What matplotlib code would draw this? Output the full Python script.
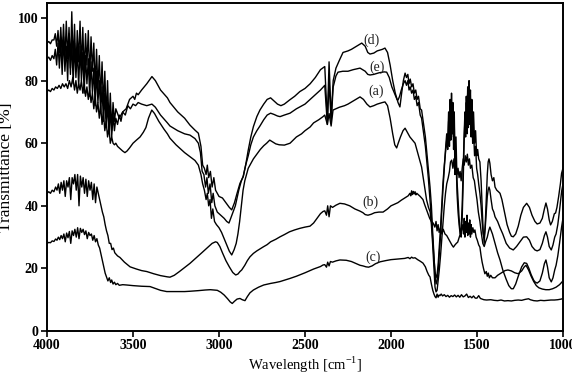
import matplotlib
matplotlib.use("Agg")
import matplotlib.pyplot as plt
import numpy as np

plt.rcParams['font.family'] = ['Liberation Serif', 'DejaVu Serif']
plt.rcParams['mathtext.fontset'] = 'custom'
plt.rcParams['mathtext.rm'] = 'Liberation Serif'

# ---- data: (wavenumber cm-1, transmittance %) ----
curve_d = [
    (4000, 92), (3990, 92.5), (3980, 91.8), (3970, 93),
    (3960, 93), (3952, 95), (3944, 91), (3936, 96), (3928, 89), (3920, 97), (3912, 88), (3904, 98),
    (3896, 86), (3888, 99), (3880, 87), (3872, 97), (3864, 84), (3856, 102), (3848, 85), (3840, 98),
    (3832, 83), (3824, 96), (3816, 86), (3808, 99), (3800, 84), (3792, 97), (3784, 82), (3776, 95),
    (3768, 85), (3760, 96), (3752, 81), (3744, 94), (3736, 83), (3728, 92), (3720, 78), (3712, 90),
    (3704, 77), (3696, 88), (3688, 74), (3680, 86), (3672, 72), (3664, 83), (3656, 68), (3648, 80),
    (3640, 66), (3632, 76), (3624, 64), (3616, 73), (3608, 67), (3600, 71),
    (3580, 68), (3560, 70), (3540, 71), (3520, 74), (3500, 75), (3490, 74), (3480, 76), (3470, 75.5),
    (3450, 77), (3420, 79), (3390, 81.3), (3370, 80), (3340, 77), (3300, 74.5), (3285, 73), (3240, 70),
    (3200, 68), (3169, 65.8), (3140, 64.2), (3120, 63.2), (3105, 59), (3095, 53), (3085, 52), (3075, 50),
    (3068, 53), (3060, 49), (3050, 51), (3040, 46), (3030, 49), (3020, 45), (3000, 43), (2980, 42.5),
    (2960, 41), (2940, 39.5), (2926, 38.7), (2910, 41), (2895, 44), (2878, 47.2), (2859, 49.3),
    (2845, 53), (2830, 57.8), (2815, 62), (2800, 65.3), (2780, 68.5), (2762, 70.6), (2740, 72.5),
    (2720, 74), (2700, 74.5), (2680, 73.5), (2660, 72.5), (2640, 72), (2620, 72.5), (2590, 73.8),
    (2560, 75), (2530, 76.5), (2500, 77.5), (2470, 79), (2440, 81), (2410, 83.5), (2385, 84.5),
    (2370, 67), (2360, 86), (2348, 68), (2336, 80), (2320, 84), (2300, 86.5), (2279, 89), (2250, 89.5),
    (2230, 90), (2200, 91), (2170, 92), (2150, 91), (2135, 89), (2122, 88.5), (2100, 88.8), (2080, 89.5),
    (2050, 90), (2035, 90.4), (2020, 89), (2005, 85), (1990, 80), (1975, 76), (1959, 73), (1948, 71.6),
    (1938, 76), (1928, 80), (1918, 82.4), (1910, 81), (1902, 82), (1895, 79), (1888, 80.5), (1880, 78),
    (1872, 79), (1864, 76), (1856, 77), (1848, 74), (1840, 75), (1830, 71), (1822, 70.6), (1810, 66),
    (1800, 62), (1793, 57.8), (1783, 52), (1773, 46), (1765, 40), (1758, 32), (1750, 24), (1744, 18),
    (1738, 15), (1732, 16), (1726, 19), (1720, 24), (1712, 30), (1705, 38), (1698, 45), (1690, 52),
    (1683, 58), (1676, 63), (1670, 60), (1665, 70), (1660, 62), (1656, 74), (1652, 64), (1648, 76),
    (1644, 66), (1640, 73), (1636, 62), (1632, 70), (1628, 55), (1622, 62), (1616, 48), (1610, 42),
    (1604, 36), (1598, 32), (1592, 30), (1586, 36), (1580, 48), (1575, 60), (1570, 68), (1566, 62),
    (1562, 75), (1558, 66), (1554, 78), (1550, 68), (1546, 80), (1542, 70), (1538, 77), (1534, 66),
    (1530, 74), (1525, 64), (1520, 70), (1514, 60), (1508, 64), (1502, 56), (1496, 58), (1490, 55),
    (1483, 54), (1476, 48), (1470, 40), (1464, 32), (1458, 28), (1452, 34), (1446, 42), (1440, 50),
    (1435, 54), (1430, 55), (1425, 53.6), (1418, 50), (1410, 48), (1402, 49), (1395, 46), (1385, 45),
    (1375, 44.5), (1366, 44), (1355, 42), (1340, 38), (1325, 34), (1310, 31.5), (1300, 30.3),
    (1289, 30.1), (1275, 31), (1260, 33.5), (1245, 37), (1230, 39.5), (1211, 40.8), (1195, 39.5),
    (1180, 37), (1163, 35), (1150, 34.2), (1134, 34.5), (1120, 36), (1108, 39), (1099, 40.9),
    (1090, 39), (1080, 35.5), (1072, 33.9), (1062, 35), (1050, 37.5), (1043, 37.7), (1035, 39.5),
    (1025, 43), (1015, 47), (1008, 50.4), (1000, 52),
]

curve_e = [
    (4000, 87), (3990, 87.5), (3980, 86.5), (3970, 88),
    (3960, 87), (3952, 90), (3944, 85), (3936, 92), (3928, 84), (3920, 93), (3912, 82), (3904, 94),
    (3896, 83), (3888, 91), (3880, 80), (3872, 95), (3864, 82), (3856, 93), (3848, 79), (3840, 92),
    (3832, 81), (3824, 90), (3816, 78), (3808, 91), (3800, 80), (3792, 89), (3784, 76), (3776, 88),
    (3768, 79), (3760, 87), (3752, 75), (3744, 86), (3736, 76), (3728, 84), (3720, 72), (3712, 83),
    (3704, 73), (3696, 80), (3688, 70), (3680, 78), (3672, 67), (3664, 76), (3656, 65), (3648, 73),
    (3640, 63), (3632, 71), (3624, 62), (3616, 69), (3608, 64), (3600, 68), (3590, 66), (3580, 69),
    (3570, 67), (3560, 70), (3545, 69), (3530, 72), (3515, 71), (3500, 72.5), (3485, 72), (3470, 73),
    (3450, 72.5), (3420, 72), (3390, 72.5), (3370, 71.5), (3340, 69), (3300, 66.5), (3285, 65.5),
    (3240, 64), (3200, 63), (3169, 62.6), (3140, 61.5), (3120, 60), (3108, 57), (3098, 51), (3088, 50),
    (3078, 46), (3070, 49), (3062, 44), (3052, 47), (3042, 41), (3034, 44), (3024, 40), (3010, 38),
    (2990, 37), (2970, 36), (2955, 35), (2942, 34.5), (2925, 37), (2905, 40), (2885, 45), (2870, 48),
    (2859, 49.5), (2845, 53), (2830, 56), (2815, 59.5), (2800, 62), (2780, 64), (2762, 65.5),
    (2740, 67.5), (2720, 69), (2700, 69.6), (2680, 69.2), (2660, 68.7), (2645, 68.5), (2620, 69),
    (2587, 69.6), (2550, 71), (2500, 72.5), (2470, 74), (2440, 75.5), (2410, 77), (2385, 78.5),
    (2370, 66), (2360, 80), (2348, 67), (2336, 78), (2320, 81.5), (2308, 82.7), (2280, 83), (2250, 83),
    (2220, 83.5), (2180, 84), (2150, 83), (2135, 82), (2122, 81.8), (2100, 82), (2070, 82.5),
    (2040, 82.8), (2025, 82.7), (2010, 81), (1995, 78), (1980, 76), (1965, 74), (1959, 73.8),
    (1950, 75), (1940, 77), (1928, 79), (1918, 80), (1910, 78.5), (1902, 80), (1895, 77), (1888, 78),
    (1880, 76), (1872, 77), (1864, 74), (1856, 75), (1848, 72), (1840, 73), (1830, 69), (1822, 68),
    (1810, 63), (1800, 59), (1793, 55), (1783, 49), (1773, 42), (1765, 36), (1758, 30), (1750, 23),
    (1744, 19), (1738, 17), (1732, 18), (1726, 21), (1720, 26), (1712, 33), (1705, 40), (1698, 47),
    (1690, 53), (1683, 57), (1676, 61), (1670, 58), (1665, 67), (1660, 59), (1656, 71), (1652, 61),
    (1648, 73), (1644, 63), (1640, 70), (1636, 58), (1632, 66), (1628, 50), (1622, 56), (1616, 44),
    (1610, 38), (1604, 34), (1598, 31), (1592, 33), (1586, 40), (1580, 52), (1575, 62), (1570, 70),
    (1566, 64), (1562, 73), (1558, 63), (1554, 76), (1550, 65), (1546, 74), (1542, 66), (1538, 72),
    (1534, 62), (1530, 69), (1525, 60), (1520, 64), (1514, 56), (1508, 59), (1502, 52), (1496, 50),
    (1490, 47), (1483, 44), (1476, 40), (1470, 35), (1464, 31), (1458, 30), (1452, 33), (1446, 38),
    (1440, 43), (1435, 45), (1430, 46), (1425, 45), (1418, 42), (1410, 39), (1402, 38), (1395, 36.5),
    (1380, 35), (1366, 33), (1350, 31), (1330, 28), (1310, 26.5), (1289, 25.9), (1270, 27),
    (1250, 28.5), (1230, 30), (1211, 30.1), (1195, 29), (1180, 27), (1163, 25.9), (1150, 25.6),
    (1134, 26), (1120, 28), (1108, 30.5), (1099, 31.7), (1090, 30), (1080, 27), (1068, 25.9),
    (1058, 27.5), (1048, 30), (1040, 31), (1030, 34), (1020, 38.5), (1008, 44.5), (1000, 47),
]

curve_a = [
    (4000, 76.5), (3990, 77), (3980, 76.5), (3970, 77.5), (3960, 77), (3950, 78), (3940, 77.5),
    (3930, 78.5), (3920, 77.5), (3910, 79), (3900, 78), (3890, 79), (3880, 77.5), (3870, 80),
    (3860, 78), (3850, 81), (3840, 77), (3832, 80), (3824, 76), (3816, 79), (3808, 77), (3800, 80),
    (3792, 76), (3784, 79), (3776, 75), (3768, 78), (3760, 74), (3752, 77), (3744, 73), (3736, 76),
    (3728, 71), (3720, 75), (3712, 70), (3704, 73), (3696, 68), (3688, 72), (3680, 66), (3672, 70),
    (3664, 64), (3656, 67), (3648, 62), (3640, 65), (3632, 60), (3624, 62), (3616, 60), (3608, 59.5),
    (3600, 60), (3590, 59), (3580, 58.5), (3570, 58), (3560, 57.5), (3547, 57), (3535, 57.5),
    (3520, 58.5), (3500, 60), (3480, 61), (3459, 62), (3440, 63.5), (3425, 65), (3410, 68),
    (3391, 70.6), (3375, 69.5), (3350, 67), (3320, 64.5), (3300, 63), (3285, 61.6), (3250, 59.5),
    (3200, 57), (3169, 55.7), (3140, 54.5), (3120, 53), (3105, 50), (3095, 47), (3085, 45), (3075, 42),
    (3068, 44), (3060, 40), (3052, 42), (3044, 36), (3036, 39), (3026, 35), (3015, 34), (3000, 33),
    (2985, 31.5), (2970, 29.5), (2955, 27.5), (2940, 25.5), (2926, 24.3), (2912, 26), (2900, 28),
    (2890, 31), (2880, 35), (2870, 40), (2860, 45), (2850, 48), (2840, 50), (2830, 52), (2815, 53.5),
    (2800, 55), (2780, 56.5), (2760, 58), (2740, 59.2), (2723, 60), (2705, 61), (2690, 60.5),
    (2670, 59.8), (2650, 59.5), (2620, 59.4), (2587, 60), (2550, 62), (2520, 63), (2500, 64),
    (2470, 65.2), (2450, 66.5), (2420, 67.5), (2395, 68.5), (2385, 69), (2370, 66), (2360, 69.5),
    (2348, 65.5), (2337, 70.6), (2320, 71), (2300, 71.5), (2270, 72), (2250, 72.5), (2220, 73.5),
    (2180, 74.8), (2160, 74), (2140, 72.5), (2122, 71.6), (2100, 72), (2080, 72.5), (2050, 73),
    (2035, 73.2), (2020, 72), (2005, 68), (1990, 63), (1978, 59.5), (1967, 58.5), (1958, 60),
    (1945, 62), (1930, 64), (1918, 64.8), (1905, 63.5), (1890, 62), (1875, 61), (1860, 60), (1845, 57),
    (1835, 55), (1822, 52.4), (1810, 48), (1800, 44.5), (1793, 41.9), (1782, 39.5), (1772, 38),
    (1765, 34), (1758, 28), (1750, 20), (1744, 14), (1738, 12.5), (1732, 13), (1726, 16), (1720, 19),
    (1712, 24), (1705, 29), (1698, 34), (1690, 40), (1683, 44), (1676, 47), (1667, 49), (1660, 51),
    (1654, 54), (1647, 54.6), (1640, 52), (1634, 55), (1628, 51), (1622, 54), (1616, 50), (1610, 52),
    (1604, 49), (1598, 51), (1592, 48), (1586, 52), (1580, 55), (1574, 53), (1568, 56), (1562, 54),
    (1556, 56.5), (1550, 53), (1544, 55), (1538, 52), (1530, 53), (1522, 49), (1515, 48), (1508, 45),
    (1500, 42), (1492, 38), (1483, 35), (1474, 31), (1466, 28), (1458, 27), (1450, 28.5), (1440, 30),
    (1432, 32), (1425, 33.2), (1410, 31), (1395, 28), (1380, 25), (1366, 22.7), (1350, 19.5),
    (1330, 16.5), (1315, 14.5), (1300, 13.5), (1289, 13.5), (1275, 15), (1260, 17.5), (1240, 20.5),
    (1225, 21.8), (1211, 21.6), (1198, 20), (1185, 18), (1170, 16.2), (1163, 15.7), (1150, 15.3),
    (1134, 16), (1120, 18.5), (1108, 21.5), (1099, 22.7), (1090, 20.5), (1080, 17), (1068, 15.7),
    (1058, 17), (1048, 19.5), (1040, 21), (1030, 24), (1020, 28), (1008, 33.2), (1000, 36),
]

curve_b = [
    (4000, 44), (3990, 44.5), (3980, 44), (3970, 45), (3960, 44.5), (3950, 46), (3942, 45),
    (3934, 47), (3926, 44), (3918, 47.5), (3910, 45), (3902, 48), (3894, 43), (3886, 48), (3878, 46),
    (3870, 49), (3862, 42), (3854, 49), (3846, 47), (3838, 50), (3830, 45), (3822, 50), (3814, 40),
    (3806, 49.5), (3798, 46), (3790, 49), (3782, 44), (3774, 48.5), (3766, 43), (3758, 48), (3750, 45),
    (3742, 47.5), (3734, 42), (3726, 47), (3718, 41), (3710, 46), (3702, 44), (3694, 42), (3686, 40),
    (3678, 38), (3670, 36.5), (3662, 34), (3654, 32), (3646, 30.5), (3638, 28), (3630, 28),
    (3622, 26), (3614, 26.5), (3606, 25), (3598, 24.5), (3590, 24), (3576, 23.5), (3550, 22),
    (3517, 20.5), (3480, 19.8), (3450, 19.3), (3420, 19), (3380, 18.3), (3340, 17.7), (3300, 17.3),
    (3285, 17.2), (3260, 17.8), (3230, 19), (3200, 20.3), (3169, 21.6), (3130, 23.5), (3100, 25),
    (3070, 26.5), (3040, 28), (3020, 28.5), (3010, 28.3), (2995, 27), (2980, 25), (2960, 22.5),
    (2940, 20.5), (2920, 18.7), (2903, 17.9), (2890, 18.2), (2878, 19), (2868, 19.5), (2850, 21),
    (2835, 22.5), (2820, 23.7), (2800, 24.8), (2780, 25.6), (2760, 26.3), (2742, 26.9), (2720, 27.6),
    (2700, 28.5), (2670, 29.3), (2645, 30.1), (2620, 30.8), (2590, 31.7), (2560, 32.3), (2530, 32.8),
    (2500, 33.2), (2471, 33.5), (2450, 34.5), (2430, 36), (2410, 37.5), (2395, 38.2), (2385, 38.4),
    (2375, 37), (2368, 40), (2360, 36.5), (2352, 40), (2340, 39.5), (2320, 40.2), (2297, 40.8),
    (2270, 40.6), (2240, 40), (2210, 39), (2180, 38.3), (2163, 37.8), (2150, 37.2), (2134, 37),
    (2115, 37.3), (2095, 37.8), (2070, 38), (2046, 38), (2020, 39), (2000, 40), (1980, 40.5),
    (1960, 41), (1940, 41.8), (1920, 42.5), (1900, 43.2), (1890, 44), (1885, 43.2), (1880, 44.8),
    (1875, 43.6), (1870, 44.6), (1865, 43.8), (1860, 44.5), (1855, 43.5), (1850, 44), (1840, 43.5),
    (1830, 43), (1822, 42.5), (1814, 42), (1805, 40.5), (1795, 39), (1785, 37.5), (1775, 36),
    (1765, 35), (1755, 34.5), (1745, 33.2), (1738, 35), (1732, 32), (1726, 34), (1720, 31.5),
    (1712, 33), (1704, 31), (1696, 32.5), (1686, 31), (1676, 30.5), (1666, 29.5), (1656, 28.5),
    (1646, 27.5), (1637, 26.8), (1628, 27.5), (1620, 28), (1612, 28.4), (1600, 30.5), (1590, 32),
    (1582, 34), (1578, 31), (1574, 36), (1570, 30), (1566, 35), (1562, 31.5), (1558, 37), (1554, 30.5),
    (1550, 34.5), (1546, 31), (1542, 35.5), (1538, 30), (1534, 34), (1530, 31), (1524, 33),
    (1518, 31.5), (1512, 32.3), (1505, 30), (1498, 29), (1490, 27.5), (1483, 26.8), (1476, 24),
    (1470, 22), (1462, 20), (1454, 18.3), (1446, 19), (1440, 17.5), (1434, 18.5), (1428, 17),
    (1420, 17.8), (1410, 17), (1395, 17), (1380, 17.8), (1360, 18.5), (1337, 19.3), (1320, 19.5),
    (1300, 19.2), (1280, 18.6), (1260, 18.3), (1240, 19.2), (1225, 20.5), (1215, 21), (1200, 19.5),
    (1185, 17.5), (1170, 15.8), (1155, 14.5), (1140, 13.8), (1120, 13.4), (1100, 13.2), (1080, 13.2),
    (1060, 13.5), (1040, 14), (1020, 14.8), (1000, 16),
]

curve_c = [
    (4000, 28), (3990, 28.3), (3980, 28.2), (3970, 28.8), (3960, 28.6), (3950, 29.4), (3942, 29),
    (3934, 30), (3926, 29.2), (3918, 30.5), (3910, 29.5), (3902, 31), (3894, 28.5), (3886, 31.3),
    (3878, 29.8), (3870, 31.8), (3862, 28), (3854, 32), (3846, 30.5), (3838, 32.5), (3830, 30),
    (3822, 33), (3814, 29.5), (3806, 32.8), (3798, 31.5), (3790, 32.5), (3782, 30.8), (3774, 32),
    (3766, 29.5), (3758, 31.5), (3750, 30.5), (3742, 31), (3734, 29), (3726, 30.5), (3718, 28.5),
    (3710, 29.5), (3702, 27.5), (3694, 26.5), (3686, 24.5), (3678, 22.5), (3670, 20.5), (3662, 18.5),
    (3654, 17.3), (3646, 16), (3638, 17), (3630, 15.5), (3624, 16.3), (3616, 15), (3608, 15.6),
    (3600, 14.8), (3590, 15.2), (3580, 14.6), (3560, 14.8), (3537, 14.7), (3500, 14.5), (3450, 14.3),
    (3401, 14.2), (3370, 13.6), (3340, 13), (3304, 12.6), (3250, 12.6), (3200, 12.6), (3169, 12.7),
    (3120, 12.9), (3080, 13.1), (3050, 13.2), (3033, 13.1), (3010, 13), (2990, 12.4), (2970, 11.5),
    (2950, 10.3), (2935, 9.3), (2923, 8.8), (2910, 9.5), (2895, 10.2), (2878, 10.4), (2865, 10),
    (2849, 9.7), (2835, 11), (2820, 12.2), (2800, 13.1), (2770, 14), (2740, 14.7), (2700, 15.2),
    (2670, 15.5), (2645, 15.8), (2610, 16.4), (2587, 16.8), (2550, 17.5), (2500, 18.6), (2450, 19.8),
    (2410, 20.6), (2395, 21.1), (2385, 21.2), (2375, 20.4), (2368, 22), (2360, 20.8), (2352, 22.2),
    (2340, 22), (2320, 22.4), (2297, 22.7), (2260, 22.6), (2230, 22.2), (2200, 21.5), (2180, 21),
    (2163, 20.8), (2145, 20.5), (2130, 20.4), (2110, 20.8), (2090, 21.5), (2064, 22.1), (2030, 22.5),
    (2000, 22.8), (1960, 23), (1920, 23.2), (1900, 23.5), (1890, 23.1), (1880, 23.6), (1872, 23.3),
    (1860, 23.4), (1845, 22.8), (1830, 22.3), (1814, 21.7), (1800, 20.5), (1790, 19), (1780, 17.8),
    (1773, 17.3), (1765, 15), (1757, 13), (1750, 11.8), (1744, 11), (1738, 10.6), (1732, 11.8),
    (1726, 10.8), (1720, 11.5), (1715, 11.3), (1708, 11.8), (1700, 11.2), (1690, 11.6), (1680, 11),
    (1670, 11.4), (1660, 10.8), (1650, 11.3), (1640, 11), (1630, 11.5), (1620, 10.9), (1610, 11.4),
    (1600, 10.8), (1590, 11.6), (1580, 10.9), (1570, 11.2), (1560, 11.8), (1550, 10.7), (1540, 11.1),
    (1530, 10.6), (1520, 11.2), (1510, 10.5), (1500, 10.5), (1490, 11.3), (1480, 10.4), (1470, 10.2),
    (1460, 10), (1444, 9.9), (1420, 10), (1400, 9.8), (1380, 9.7), (1360, 9.9), (1340, 9.6),
    (1320, 9.7), (1300, 9.6), (1280, 9.8), (1260, 9.9), (1240, 9.8), (1220, 10.1), (1200, 10.3),
    (1190, 10), (1170, 9.7), (1150, 9.6), (1130, 9.8), (1110, 9.7), (1090, 9.8), (1070, 9.9),
    (1050, 9.9), (1030, 10), (1010, 10.2), (1000, 10.4),
]

series_names = ["(d)", "(e)", "(a)", "(b)", "(c)"]
label_positions = [(2116, 93.0), (2083, 84.4), (2087, 76.5), (2122, 41.0), (2103, 23.5)]

x_ticks = [4000, 3500, 3000, 2500, 2000, 1500, 1000]
y_ticks = [0, 20, 40, 60, 80, 100]

fig = plt.figure(figsize=(5.72, 3.82), dpi=100)
ax = fig.add_axes([0.0822, 0.1335, 0.902, 0.8586])

for curve in [curve_d, curve_e, curve_a, curve_b, curve_c]:
    pts = sorted(curve, key=lambda p: -p[0])
    wn = np.array([p[0] for p in pts], dtype=float)
    tr = np.array([p[1] for p in pts], dtype=float)
    ax.plot(wn, tr, color='black', lw=1.0)

for name, (lx, ly) in zip(series_names, label_positions):
    ax.text(lx, ly, name, fontsize=10, ha='center', va='center', color='#222222')

ax.set_xlim(4000, 1000)
ax.set_ylim(0, 104.8)
ax.set_xticks(x_ticks)
ax.set_yticks(y_ticks)
ax.set_xticklabels([str(v) for v in x_ticks], fontweight='bold', fontsize=10)
ax.set_yticklabels([str(v) for v in y_ticks], fontweight='bold', fontsize=10)
ax.tick_params(direction='out', length=4, width=1.2, pad=2)
for s in ax.spines.values():
    s.set_linewidth(1.4)

ax.set_xlabel('Wavelength [cm$^{-1}$]', fontsize=10.5, labelpad=2)
ax.set_ylabel('Transmittance [%]', fontsize=12.5, labelpad=3)

fig.savefig('out.png', dpi=100)
